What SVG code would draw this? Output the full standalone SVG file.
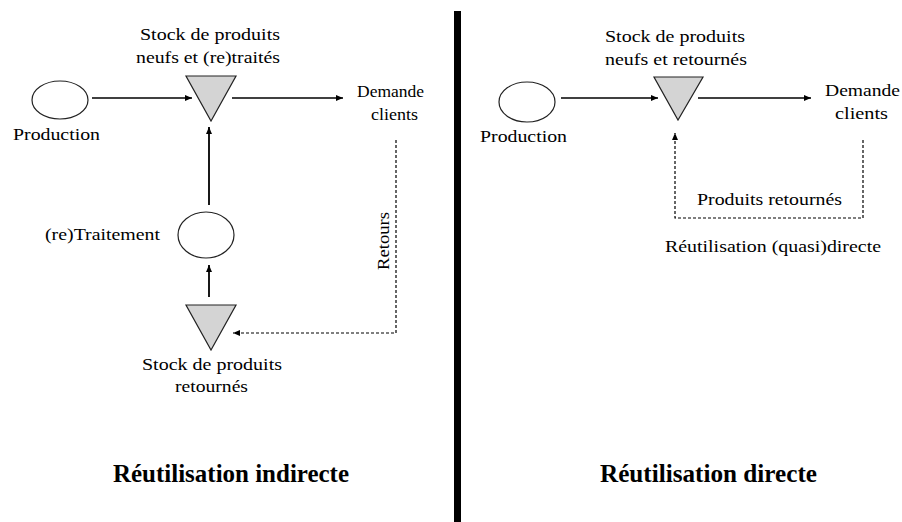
<svg xmlns="http://www.w3.org/2000/svg" width="902" height="522" viewBox="0 0 902 522">
<defs>
<marker id="ah" markerUnits="userSpaceOnUse" markerWidth="8" markerHeight="8" refX="7" refY="4" orient="auto">
<path d="M0,1 L7,4 L0,7 Z" fill="#000"/>
</marker>
</defs>
<style>
text{font-family:"Liberation Serif","Times New Roman",serif;font-size:17px;fill:#000;}
.t{text-anchor:start;}
.b{font-weight:bold;font-size:25px;}
.ell{fill:#fff;stroke:#222;stroke-width:1.2;}
.tri{fill:#d4d4d4;stroke:#222;stroke-width:1.2;}
.ln{stroke:#000;stroke-width:1.3;fill:none;}
.thick{stroke-width:1.8;}
.dash{stroke:#000;stroke-width:1.2;fill:none;stroke-dasharray:3 2;}
</style>
<rect width="902" height="522" fill="#fff"/>

<g id="connectors">
<line class="ln" x1="92" y1="98" x2="192" y2="98" marker-end="url(#ah)"/>
<line class="ln" x1="232" y1="98" x2="343" y2="98" marker-end="url(#ah)"/>
<line class="ln thick" x1="209" y1="205" x2="209" y2="127" marker-end="url(#ah)"/>
<line class="ln thick" x1="209" y1="297" x2="209" y2="265" marker-end="url(#ah)"/>
<polyline class="dash" points="396,140 396,333 233,333" marker-end="url(#ah)"/>
<line class="ln" x1="561" y1="98" x2="658" y2="98" marker-end="url(#ah)"/>
<line class="ln" x1="698" y1="98" x2="811" y2="98" marker-end="url(#ah)"/>
<polyline class="dash" points="863,140 863,218 675,218 675,133" marker-end="url(#ah)"/>
</g>

<g id="divider"><rect x="454" y="11" width="7" height="511" fill="#000"/></g>

<g id="left-production">
<ellipse class="ell" cx="60" cy="100" rx="28" ry="19"/>
<text class="t" x="13" y="140" textLength="87" lengthAdjust="spacingAndGlyphs">Production</text>
</g>
<g id="left-stock">
<polygon class="tri" points="186,76 236,76 211,121"/>
<text class="t" x="140" y="40" textLength="140" lengthAdjust="spacingAndGlyphs">Stock de produits</text>
<text class="t" x="136" y="63" textLength="144" lengthAdjust="spacingAndGlyphs">neufs et (re)traités</text>
</g>
<g id="left-demande">
<text class="t" x="357" y="97" textLength="67" lengthAdjust="spacingAndGlyphs">Demande</text>
<text class="t" x="371" y="120" textLength="47" lengthAdjust="spacingAndGlyphs">clients</text>
</g>
<g id="left-traitement">
<ellipse class="ell" cx="206" cy="235" rx="28" ry="23"/>
<text class="t" x="45" y="240" textLength="115" lengthAdjust="spacingAndGlyphs">(re)Traitement</text>
</g>
<g id="left-stock-retour">
<polygon class="tri" points="186,305 236,305 211,350"/>
<text class="t" x="142" y="370" textLength="140" lengthAdjust="spacingAndGlyphs">Stock de produits</text>
<text class="t" x="175" y="392" textLength="73" lengthAdjust="spacingAndGlyphs">retournés</text>
</g>
<g id="left-retours-label">
<text class="t" transform="translate(389,270) rotate(-90)" x="0" y="0" textLength="58" lengthAdjust="spacingAndGlyphs">Retours</text>
</g>
<g id="left-title">
<text class="t b" x="113" y="482" textLength="236" lengthAdjust="spacingAndGlyphs">Réutilisation indirecte</text>
</g>

<g id="right-production">
<ellipse class="ell" cx="527" cy="102" rx="28" ry="20"/>
<text class="t" x="480" y="142" textLength="87" lengthAdjust="spacingAndGlyphs">Production</text>
</g>
<g id="right-stock">
<polygon class="tri" points="654,77 703,77 678,120"/>
<text class="t" x="605" y="42" textLength="140" lengthAdjust="spacingAndGlyphs">Stock de produits</text>
<text class="t" x="605" y="65" textLength="142" lengthAdjust="spacingAndGlyphs">neufs et retournés</text>
</g>
<g id="right-demande">
<text class="t" x="825" y="96" textLength="75" lengthAdjust="spacingAndGlyphs">Demande</text>
<text class="t" x="835" y="119" textLength="53" lengthAdjust="spacingAndGlyphs">clients</text>
</g>
<g id="right-labels">
<text class="t" x="697" y="205" textLength="145" lengthAdjust="spacingAndGlyphs">Produits retournés</text>
<text class="t" x="665" y="252" textLength="216" lengthAdjust="spacingAndGlyphs">Réutilisation (quasi)directe</text>
</g>
<g id="right-title">
<text class="t b" x="600" y="482" textLength="217" lengthAdjust="spacingAndGlyphs">Réutilisation directe</text>
</g>
</svg>
